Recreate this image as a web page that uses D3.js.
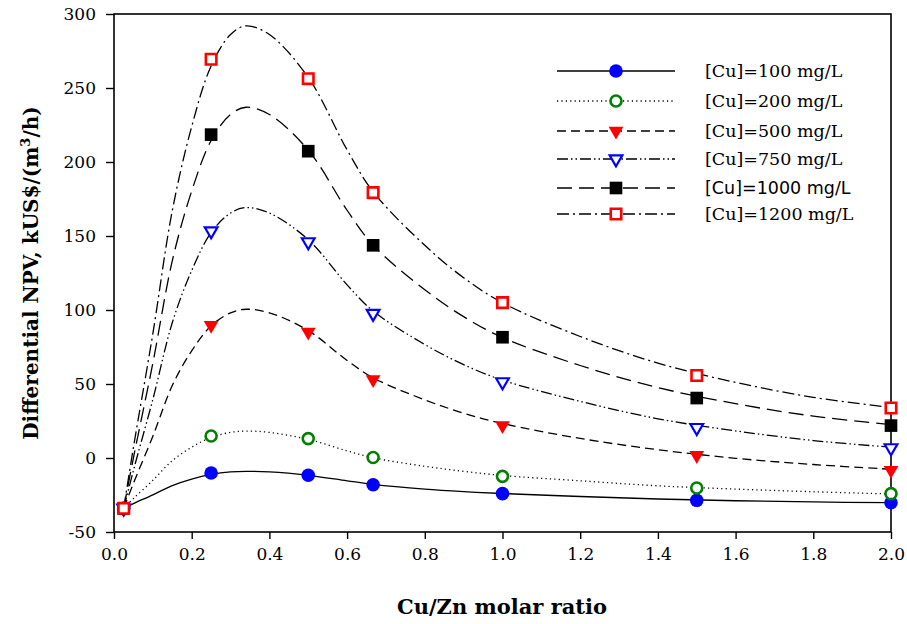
<!DOCTYPE html>
<html><head><meta charset="utf-8">
<script src="https://cdn.jsdelivr.net/npm/d3@7/dist/d3.min.js"></script>
<style>body{margin:0;background:#fff}svg{display:block}</style>
</head><body>
<script>
// ---- data ----
const xTicks = [0.0,0.2,0.4,0.6,0.8,1.0,1.2,1.4,1.6,1.8,2.0];
const yTicks = [-50,0,50,100,150,200,250,300];
const seriesNames = ["[Cu]=100 mg/L","[Cu]=200 mg/L","[Cu]=500 mg/L","[Cu]=750 mg/L","[Cu]=1000 mg/L","[Cu]=1200 mg/L"];
// measured points
const pointX = [0.025,0.25,0.5,0.667,1.0,1.5,2.0];
const p100  = [-34,-10.1,-11.7,-18.1,-24.1,-28.6,-30.2];
const p200  = [-34,14.9,13.1,0.3,-12.4,-20.3,-24.1];
const p500  = [-34,89.7,85.1,53,22,1.8,-8.3];
const p750  = [-34,153.4,146,97.6,51.4,20.5,6.8];
const p1000 = [-34,218.5,207.3,143.7,81.6,40.5,21.9];
const p1200 = [-34,269.4,256.3,179.3,105,55.7,33.8];
// fitted curves
const curveX = [0.025,0.05,0.1,0.15,0.2,0.25,0.3,0.34,0.4,0.5,0.6,0.667,0.8,0.9,1.0,1.2,1.4,1.6,1.8,2.0];
const c100  = [-34,-30.8,-24.9,-18.6,-14.2,-11.1,-9.4,-9,-9.4,-11.7,-15.4,-17.8,-21,-22.7,-24,-26,-27.7,-28.9,-29.7,-30.2];
const c200  = [-34,-27.4,-15.1,-1.8,7.3,13.9,17.3,18.2,17.3,12.6,4.8,0.2,-5.6,-9,-11.8,-15.4,-18.8,-21,-22.8,-24.3];
const c500  = [-34,-17.1,14.7,49,72.4,89.3,98.1,100.5,98.1,86.1,65.9,54.2,39.3,30.3,23.3,13.2,5.6,-0.2,-4.4,-7.6];
const c750  = [-34,-8.4,39.6,91.4,126.7,152.3,165.5,169.2,165.5,147.5,117,99.3,76.7,63.1,52.6,38.3,26.5,18.3,11.8,7.3];
const c1000 = [-34,0.1,64.1,133.2,180.4,214.5,232.1,237,232.1,208,167.4,143.8,113.7,95.5,81.4,62.5,47.6,36.7,28.3,22.6];
const c1200 = [-34,7.1,84,167.1,223.9,264.9,286.1,292,286.1,257.1,208.2,179.9,143.7,121.8,104.9,82.1,64.1,51.1,41,34.1];

const points = [p100,p200,p500,p750,p1000,p1200];
const curves = [c100,c200,c500,c750,c1000,c1200];
// styles
const dashes = [null,"1.2,3.2","9,5","11,3,1.5,3,1.5,3","15,7","12,4,2,4"];
const markers = [
  {type:d3.symbolCircle, size:145, fill:"#0000ff", stroke:"none", sw:0, rot:0},
  {type:d3.symbolCircle, size:95, fill:"#fff", stroke:"#008000", sw:2.6, rot:0},
  {type:d3.symbolTriangle, size:95, fill:"#ff0000", stroke:"none", sw:0, rot:180},
  {type:d3.symbolTriangle, size:70, fill:"#fff", stroke:"#0000ff", sw:2.2, rot:180},
  {type:d3.symbolSquare, size:160, fill:"#000", stroke:"none", sw:0, rot:0},
  {type:d3.symbolSquare, size:110, fill:"#fff", stroke:"#ff0000", sw:2.6, rot:0}
];

const svg = d3.select("body").append("svg").attr("width",907).attr("height",624);
const x = d3.scaleLinear().domain([0,2]).range([114,891]);
const y = d3.scaleLinear().domain([-50,300]).range([532,14]);

// axes
const ya = svg.append("g").attr("transform","translate(114,0)")
  .call(d3.axisLeft(y).tickValues(yTicks).tickSize(8).tickPadding(10).tickFormat(d=>String(d)));
ya.select(".domain").remove();
ya.selectAll("line").attr("stroke","#000").attr("stroke-width",1.4);
ya.selectAll("text").attr("font-family","DejaVu Serif, serif").attr("font-size",17).attr("fill","#000");

const xa = svg.append("g").attr("transform","translate(0,532)")
  .call(d3.axisBottom(x).tickValues(xTicks).tickSize(7).tickPadding(9).tickFormat(d3.format(".1f")));
xa.select(".domain").remove();
xa.selectAll("line").attr("stroke","#000").attr("stroke-width",1.4);
xa.selectAll("text").attr("font-family","DejaVu Serif, serif").attr("font-size",17).attr("fill","#000");

svg.append("rect").attr("x",114).attr("y",14).attr("width",777).attr("height",518)
  .attr("fill","none").attr("stroke","#000").attr("stroke-width",1.6);

// titles
svg.append("text").attr("x",502).attr("y",614).attr("text-anchor","middle")
  .attr("font-family","DejaVu Serif, serif").attr("font-weight","bold").attr("font-size",21)
  .text("Cu/Zn molar ratio");
const yt = svg.append("text").attr("transform","translate(38,273) rotate(-90)").attr("text-anchor","middle")
  .attr("font-family","DejaVu Serif, serif").attr("font-weight","bold").attr("font-size",20);
yt.append("tspan").text("Differential NPV, kUS$/(m");
yt.append("tspan").attr("font-size",13).attr("dy",-8).text("3");
yt.append("tspan").attr("dy",8).text("/h)");

// series
const line = d3.line().x(d=>x(d[0])).y(d=>y(d[1])).curve(d3.curveCatmullRom.alpha(0.5));
curves.forEach((c,i)=>{
  svg.append("path").datum(curveX.map((xv,j)=>[xv,c[j]]))
    .attr("d",line).attr("fill","none").attr("stroke","#000").attr("stroke-width",1.3)
    .attr("stroke-dasharray",dashes[i]);
});
points.forEach((p,i)=>{
  const m = markers[i];
  svg.append("g").selectAll("path").data(pointX.map((xv,j)=>[xv,p[j]])).join("path")
    .attr("d",d3.symbol().type(m.type).size(m.size))
    .attr("transform",d=>`translate(${x(d[0])},${y(d[1])}) rotate(${m.rot})`)
    .attr("fill",m.fill).attr("stroke",m.stroke).attr("stroke-width",m.sw);
});

// legend
const legY = [71,101,131,159,188,214];
seriesNames.forEach((name,i)=>{
  const g = svg.append("g").attr("transform",`translate(0,${legY[i]})`);
  g.append("line").attr("x1",557).attr("x2",675).attr("y1",0).attr("y2",0)
    .attr("stroke","#000").attr("stroke-width",1.3).attr("stroke-dasharray",dashes[i]);
  const m = markers[i];
  g.append("path").attr("d",d3.symbol().type(m.type).size(m.size)())
    .attr("transform",`translate(616,0) rotate(${m.rot})`)
    .attr("fill",m.fill).attr("stroke",m.stroke).attr("stroke-width",m.sw);
  g.append("text").attr("x",705).attr("y",6)
    .attr("font-family", i===4 ? "DejaVu Sans, sans-serif" : "DejaVu Serif, serif")
    .attr("font-size",17.5).attr("fill","#000").text(name);
});
</script>
</body></html>
